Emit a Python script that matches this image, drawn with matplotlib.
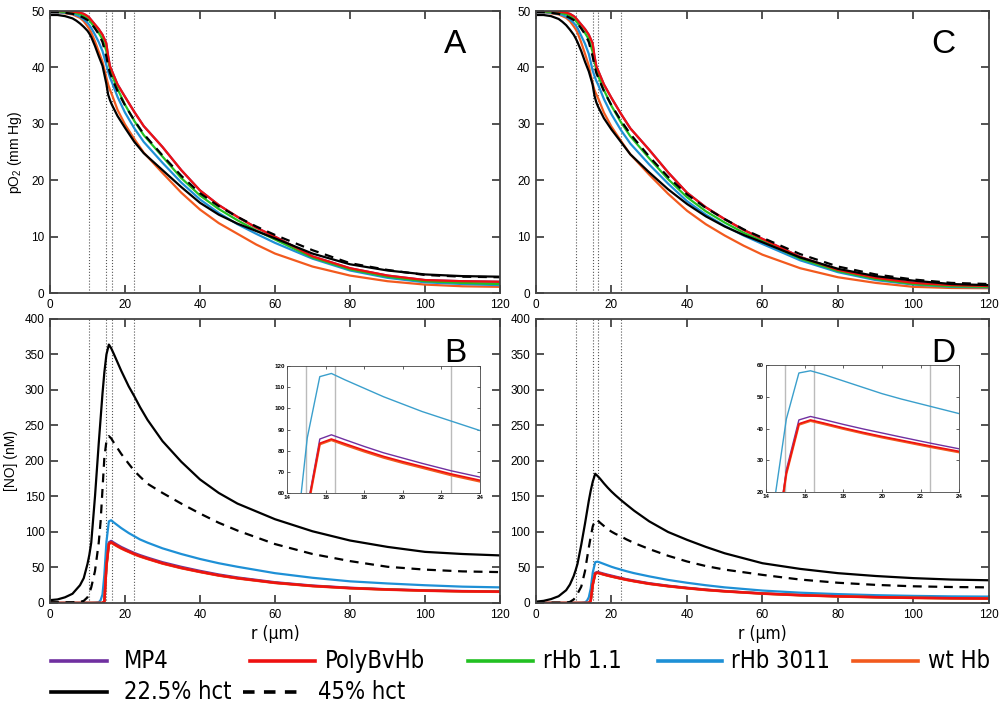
import numpy as np
import matplotlib.pyplot as plt
from matplotlib.lines import Line2D
from matplotlib import font_manager

# radial positions (um)
r_po2 = [0, 2, 4, 6, 7, 8, 9, 10, 10.5, 11, 12, 13, 14, 15, 15.5, 16, 16.5, 18, 20, 22.5,
         25, 30, 35, 40, 45, 50, 55, 60, 70, 80, 90, 100, 110, 120]
r_no = [0, 2, 4, 6, 8, 9, 10, 10.5, 11, 12, 13, 13.5, 14, 14.5, 15.05, 15.7, 16.3, 17, 18, 19,
        20, 21, 22.5, 24, 26, 30, 35, 40, 45, 50, 60, 70, 80, 90, 100, 110, 120]

# panel A: pO2 (mm Hg)
black_A = [49.3, 49.3, 49.1, 48.7, 48.3, 47.8, 47.2, 46.5, 46.0, 45.4, 43.8, 42.0, 40.3, 37.2, 35.2,
           34.2, 33.4, 31.4, 29.3, 26.8, 24.8, 21.8, 18.8, 16.0, 13.9, 12.3, 11.0, 9.7, 7.0, 5.1,
           4.0, 3.3, 3.0, 2.9]
dash_A = [49.8, 49.8, 49.7, 49.5, 49.3, 49.1, 48.8, 48.4, 48.1, 47.8, 46.9, 45.9, 44.5, 42.0, 40.3,
          39.0, 38.2, 35.8, 33.3, 30.6, 28.2, 24.4, 20.8, 17.7, 15.4, 13.5, 11.8, 10.3, 7.6, 5.3,
          4.1, 3.2, 2.9, 2.8]
red_A = [50.0, 50.0, 50.0, 49.9, 49.8, 49.7, 49.5, 49.1, 48.8, 48.4, 47.6, 46.8, 45.8, 44.3, 42.0,
         40.2, 39.4, 37.0, 34.8, 32.1, 29.6, 25.9, 21.8, 18.2, 15.6, 13.5, 11.6, 10.0, 6.5, 4.4,
         3.1, 2.3, 2.1, 2.0]
green_A = [49.9, 49.9, 49.8, 49.7, 49.6, 49.4, 49.1, 48.6, 48.3, 47.9, 47.0, 46.1, 45.0, 43.0, 41.2,
           39.8, 38.7, 36.2, 33.4, 30.5, 28.0, 24.2, 20.4, 17.3, 14.9, 12.9, 11.1, 9.5, 6.3, 4.2,
           2.9, 2.1, 1.8, 1.6]
blue_A = [49.8, 49.8, 49.7, 49.5, 49.3, 49.0, 48.5, 47.9, 47.5, 47.0, 45.8, 44.5, 42.9, 40.5, 39.3,
          38.2, 37.4, 34.8, 32.0, 29.2, 26.8, 23.1, 19.6, 16.6, 14.2, 12.2, 10.5, 8.9, 6.1, 4.0,
          2.7, 1.9, 1.6, 1.4]
orange_A = [49.8, 49.8, 49.6, 49.4, 49.1, 48.8, 48.2, 47.3, 46.8, 46.2, 44.6, 42.8, 41.0, 38.3, 37.0,
            36.0, 35.2, 32.5, 29.9, 27.3, 24.9, 21.3, 17.8, 14.8, 12.4, 10.5, 8.6, 7.0, 4.7, 3.1,
            2.1, 1.5, 1.2, 1.1]

# panel C: pO2 (mm Hg)
black_C = [49.3, 49.3, 49.1, 48.6, 48.1, 47.5, 46.7, 45.8, 45.2, 44.5, 42.9, 41.0, 39.3, 37.0, 35.0,
           33.8, 33.0, 31.0, 29.0, 26.8, 24.6, 21.4, 18.4, 15.8, 13.6, 11.8, 10.3, 9.0, 6.3, 4.3,
           3.0, 2.2, 1.6, 1.4]
dash_C = [49.8, 49.8, 49.7, 49.5, 49.3, 49.1, 48.8, 48.4, 48.1, 47.8, 46.9, 45.9, 44.5, 42.0, 40.3,
          39.0, 38.2, 35.8, 33.3, 30.6, 28.2, 24.2, 20.6, 17.5, 15.1, 13.1, 11.3, 9.8, 6.9, 4.7,
          3.3, 2.4, 1.8, 1.6]
red_C = [50.0, 50.0, 50.0, 49.9, 49.8, 49.7, 49.5, 49.1, 48.8, 48.4, 47.6, 46.8, 45.8, 44.3, 42.0,
         40.2, 39.4, 37.0, 34.6, 31.8, 29.2, 25.4, 21.4, 17.8, 15.2, 13.1, 11.2, 9.6, 6.4, 4.1,
         2.7, 1.8, 1.4, 1.25]
green_C = [49.9, 49.9, 49.8, 49.7, 49.6, 49.4, 49.1, 48.6, 48.3, 47.9, 47.0, 46.1, 45.0, 42.8, 41.0,
           39.6, 38.5, 36.0, 33.2, 30.3, 27.8, 23.9, 20.2, 17.0, 14.5, 12.5, 10.7, 9.2, 6.1, 3.9,
           2.5, 1.6, 1.2, 1.1]
blue_C = [49.8, 49.8, 49.7, 49.5, 49.3, 49.0, 48.5, 47.9, 47.5, 47.0, 45.6, 44.2, 42.4, 39.5, 38.5,
          37.6, 36.9, 34.4, 31.7, 28.9, 26.5, 22.8, 19.4, 16.3, 13.9, 11.9, 10.2, 8.7, 5.8, 3.7,
          2.3, 1.5, 1.1, 1.0]
orange_C = [49.8, 49.8, 49.6, 49.4, 49.1, 48.8, 48.2, 47.3, 46.8, 46.2, 44.4, 42.4, 40.3, 37.2, 36.0,
            35.2, 34.5, 32.0, 29.5, 27.0, 24.6, 21.0, 17.6, 14.6, 12.2, 10.2, 8.4, 6.8, 4.4, 2.8,
            1.8, 1.1, 0.9, 0.85]

# panel B: [NO] (nM)
black_B = [4, 5, 8, 13, 25, 35, 55, 68, 85, 150, 225, 260, 295, 325, 350, 364, 359, 351, 339, 327,
           316, 305, 291, 276, 258, 228, 199, 174, 155, 140, 118, 101, 88, 79, 72, 69, 67]
dash_B = [1, 1, 1, 1, 1.5, 3, 8, 14, 22, 45, 85, 115, 160, 205, 228, 235, 232, 226, 218, 210,
          203, 196, 186, 178, 168, 155, 140, 126, 113, 102, 83, 69, 59, 51, 47, 44.5, 43.5]
blue_B = [0, 0, 0, 0, 0, 0, 0, 0, 0, 0.3, 1, 4, 12, 40, 86, 115, 116.5, 113.5, 109.5, 105.5,
          102, 98.5, 94, 89.5, 85, 77, 69, 62, 56, 51, 42, 35.5, 30.5, 27.5, 25, 23, 22]
red_B = [0, 0, 0, 0, 0, 0, 0, 0, 0, 0, 0, 0, 0, 2, 52, 83.5, 85.5, 83.3, 80.2, 77.3,
         74.8, 72.5, 69, 66, 62.5, 56, 49.5, 44, 39, 35, 28.5, 24, 21, 19, 17.5, 16.5, 16]
mp4_B = [0, 0, 0, 0, 0, 0, 0, 0, 0, 0, 0, 0, 0, 2, 53, 85.5, 87.5, 85.2, 82, 79,
         76.5, 74, 70.5, 67.5, 64, 57.5, 51, 45.3, 40.2, 36, 29.3, 24.6, 21.5, 19.4, 17.9, 16.9, 16.4]
orange_B = [0, 0, 0, 0, 0, 0, 0, 0, 0, 0, 0, 0, 0, 2, 51.5, 83, 85, 82.7, 79.6, 76.7,
            74.2, 71.9, 68.4, 65.4, 62, 55.5, 49, 43.6, 38.6, 34.6, 28.2, 23.7, 20.7, 18.7, 17.2, 16.2, 15.7]

# panel D: [NO] (nM)
black_D = [1.9, 3, 5.5, 9.5, 18, 26, 38, 46, 55, 82, 112, 128, 144, 158, 171, 182, 179, 175, 168.5, 162.5,
           157, 152, 145, 138.5, 130, 115, 100, 89, 79, 70, 56, 48, 42, 38, 35, 33, 32]
dash_D = [0.5, 0.5, 0.5, 0.5, 0.5, 1.5, 5, 8, 13, 23, 45, 62, 78, 93, 108, 117, 116.5, 113, 108.5, 104,
          100.5, 97.5, 93.8, 89.5, 84.5, 76, 66.5, 58.5, 52, 47, 39.6, 33, 28.5, 25.5, 23.5, 22.5, 22]
blue_D = [0, 0, 0, 0, 0, 0, 0, 0, 0, 0.2, 1, 3, 8, 20, 43, 57.5, 58.2, 57, 55, 53,
          51, 49.3, 47, 44.7, 42, 37.5, 32.5, 28.5, 25, 22, 17.5, 14.5, 12.5, 11, 10, 9.3, 9]
red_D = [0, 0, 0, 0, 0, 0, 0, 0, 0, 0, 0, 0, 0, 3, 26, 41.5, 42.7, 41.7, 40.2, 38.8,
         37.5, 36.3, 34.5, 32.8, 30.8, 27.2, 23.8, 21, 18.5, 16.5, 13.3, 11, 9.4, 8.2, 7.3, 6.7, 6.3]
mp4_D = [0, 0, 0, 0, 0, 0, 0, 0, 0, 0, 0, 0, 0, 3, 27, 42.7, 43.8, 42.8, 41.3, 39.9,
         38.6, 37.3, 35.4, 33.6, 31.6, 27.9, 24.4, 21.5, 19, 16.9, 13.6, 11.3, 9.6, 8.4, 7.5, 6.9, 6.5]
orange_D = [0, 0, 0, 0, 0, 0, 0, 0, 0, 0, 0, 0, 0, 3, 25.7, 41.2, 42.4, 41.4, 39.9, 38.5,
            37.2, 36, 34.2, 32.5, 30.5, 26.9, 23.5, 20.7, 18.2, 16.3, 13.1, 10.8, 9.2, 8, 7.1, 6.5, 6.1]

vlines_main = [10.5, 15, 16.5, 22.5]
vlines_inset = [15, 16.5, 22.5]

c_mp4 = '#7030A0'
c_red = '#EE1111'
c_green = '#22C022'
c_blue = '#1E90D6'
c_orange = '#F25A1E'

plt.rcParams['font.family'] = ['Liberation Sans', 'DejaVu Sans']
plt.rcParams['mathtext.fontset'] = 'custom'
plt.rcParams['mathtext.rm'] = 'Liberation Sans'
plt.rcParams['mathtext.it'] = 'Liberation Sans'

# narrow font for legend / axis titles, if one is around
fonts = font_manager.fontManager.ttflist
if any(f.name == 'Liberation Sans Narrow' for f in fonts):
    narrow = dict(family='Liberation Sans Narrow')
    leg_size = 19
elif any(f.name == 'DejaVu Sans' and f.stretch == 'condensed' for f in fonts):
    narrow = dict(family='DejaVu Sans', stretch='condensed')
    leg_size = 17
else:
    narrow = dict(family='Liberation Sans')
    leg_size = 17


def style(ax, xlim, ylim, yticks, size=8.5, tl=6, lw=1.3):
    ax.set_xlim(xlim)
    ax.set_ylim(ylim)
    ax.set_yticks(yticks)
    for s in ax.spines.values():
        s.set_color('#444444')
        s.set_linewidth(lw)
    ax.tick_params(direction='in', top=True, right=True, length=tl, width=lw,
                   color='#444444', labelsize=size, pad=4)


fig = plt.figure(figsize=(10.08, 7.13), dpi=100)

axA = fig.add_axes([0.0496, 0.589, 0.4464, 0.3955])
axC = fig.add_axes([0.5317, 0.589, 0.4494, 0.3955])
axB = fig.add_axes([0.0496, 0.1543, 0.4464, 0.3983])
axD = fig.add_axes([0.5317, 0.1543, 0.4494, 0.3983])

for ax, bl, da, rd, gr, bu, og in [(axA, black_A, dash_A, red_A, green_A, blue_A, orange_A),
                                   (axC, black_C, dash_C, red_C, green_C, blue_C, orange_C)]:
    for v in vlines_main:
        ax.axvline(v, color='#555555', lw=0.8, ls=':')
    ax.plot(r_po2, rd, color=c_mp4, lw=1.6)
    ax.plot(r_po2, og, color=c_orange, lw=1.6)
    ax.plot(r_po2, bu, color=c_blue, lw=1.6)
    ax.plot(r_po2, gr, color=c_green, lw=1.6)
    ax.plot(r_po2, rd, color=c_red, lw=1.6)
    ax.plot(r_po2, bl, color='black', lw=1.6)
    ax.plot(r_po2, da, color='black', lw=1.6, ls=(0, (4, 3)))
    style(ax, (0, 120), (0, 50), np.arange(0, 51, 10))
    ax.set_xticks(np.arange(0, 121, 20))

for ax, bl, da, rd, mp, bu, og in [(axB, black_B, dash_B, red_B, mp4_B, blue_B, orange_B),
                                   (axD, black_D, dash_D, red_D, mp4_D, blue_D, orange_D)]:
    for v in vlines_main:
        ax.axvline(v, color='#555555', lw=0.8, ls=':')
    ax.plot(r_no, bu, color=c_blue, lw=1.6)
    ax.plot(r_no, mp, color=c_mp4, lw=1.6)
    ax.plot(r_no, rd, color=c_green, lw=1.6)
    ax.plot(r_no, og, color=c_orange, lw=1.8)
    ax.plot(r_no, rd, color=c_red, lw=1.8)
    ax.plot(r_no, bl, color='black', lw=1.6)
    ax.plot(r_no, da, color='black', lw=1.6, ls=(0, (4, 3)))
    style(ax, (0, 120), (0, 400), np.arange(0, 401, 50))
    ax.set_xticks(np.arange(0, 121, 20))
    ax.set_xlabel('r (\u03bcm)', fontsize=12.5, labelpad=3, **narrow)

axA.set_ylabel('pO$_2$ (mm Hg)', fontsize=10, labelpad=5)
axB.set_ylabel('[NO] (nM)', fontsize=10, labelpad=5)

for ax, lab in [(axA, 'A'), (axB, 'B'), (axC, 'C'), (axD, 'D')]:
    ax.text(0.9, 0.88, lab, transform=ax.transAxes, fontsize=24, ha='center', va='center')

# insets
insB = fig.add_axes([0.2847, 0.3086, 0.1915, 0.178])
insD = fig.add_axes([0.760, 0.310, 0.1915, 0.178])
for ax, rd, mp, bu, og, yl, yt in [(insB, red_B, mp4_B, blue_B, orange_B, (60, 120), np.arange(60, 121, 10)),
                                   (insD, red_D, mp4_D, blue_D, orange_D, (20, 60), np.arange(20, 61, 10))]:
    for v in vlines_inset:
        ax.axvline(v, color='#bbbbbb', lw=1.0)
    ax.plot(r_no, bu, color='#3A9FCC', lw=1.0)
    ax.plot(r_no, mp, color=c_mp4, lw=1.0)
    ax.plot(r_no, og, color=c_orange, lw=1.6)
    ax.plot(r_no, rd, color=c_red, lw=1.2)
    style(ax, (14, 24), yl, yt, size=4.5, tl=2, lw=0.6)
    ax.set_xticks(np.arange(14, 25, 2))
    for t in ax.get_xticklabels() + ax.get_yticklabels():
        t.set_fontweight('bold')
    ax.tick_params(pad=1.5)

# legend
W, H = 1008.0, 713.0
leg_row1 = [(51, 107, 124, 'MP4', c_mp4, '-'),
            (250, 315, 325, 'PolyBvHb', c_red, '-'),
            (468, 533, 543, 'rHb 1.1', c_green, '-'),
            (658, 722, 731, 'rHb 3011', c_blue, '-'),
            (853, 918, 928, 'wt Hb', c_orange, '-')]
leg_row2 = [(51, 107, 124, '22.5% hct', 'black', '-'),
            (243, 298, 318, '45% hct', 'black', (0, (3.2, 2.6)))]
for yy, row in [(661, leg_row1), (692, leg_row2)]:
    for x0, x1, xt, lab, col, ls in row:
        fig.add_artist(Line2D([x0 / W, x1 / W], [1 - yy / H, 1 - yy / H], color=col, lw=2.6, ls=ls))
        fig.text(xt / W, 1 - yy / H, lab, fontsize=leg_size, va='center', ha='left', **narrow)

fig.savefig('out.png', dpi=100)
